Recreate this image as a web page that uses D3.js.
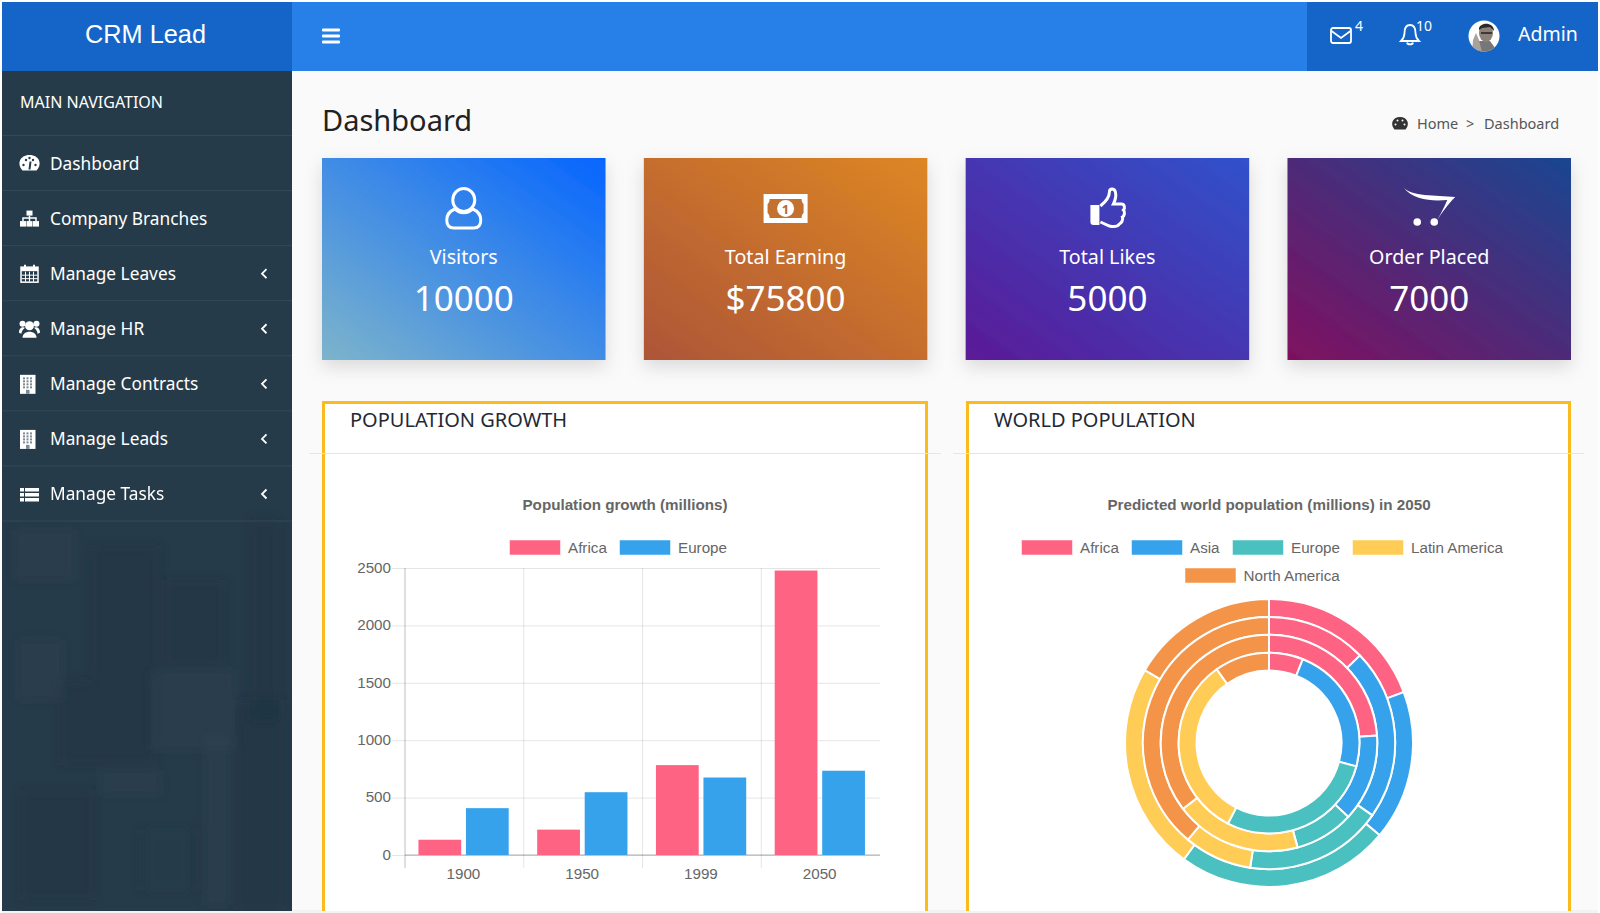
<!DOCTYPE html>
<html>
<head>
<meta charset="utf-8">
<script src="https://cdn.jsdelivr.net/npm/d3@7"></script>
<style>
  html, body { margin: 0; padding: 0; background: #fff; overflow: hidden; }
  svg { display: block; }
  text { font-family: "Noto Sans", sans-serif; }
  .chart text { font-family: "Liberation Sans", Arial, sans-serif; fill: #666; font-size: 15.2px; }
</style>
</head>
<body>
<div id="page"></div>
<script>
// Data
var menuItems = ["Dashboard", "Company Branches", "Manage Leaves", "Manage HR", "Manage Contracts", "Manage Leads", "Manage Tasks"];
var menuIcons = ["gauge", "sitemap", "calendar", "users", "building", "building", "list"];
var menuArrows = [false, false, true, true, true, true, true];

var cardLabels = ["Visitors", "Total Earning", "Total Likes", "Order Placed"];
var cardValues = ["10000", "$75800", "5000", "7000"];
var cardIcons = ["user", "money", "thumb", "cart"];
var cardFrom = ["#7db4cb", "#ad5538", "#5b1a97", "#801060"];
var cardTo = ["#0565ff", "#dd8624", "#3052cb", "#1a4691"];

var years = ["1900", "1950", "1999", "2050"];
var barSeries = ["Africa", "Europe"];
var africa = [133, 221, 783, 2478];
var europe = [408, 547, 675, 734];
var barTicks = [0, 500, 1000, 1500, 2000, 2500];

var regions = ["Africa", "Asia", "Europe", "Latin America", "North America"];
var regionColors = ["#fe6384", "#36a2eb", "#4bc0c0", "#ffcd56", "#f39449"];
// rings from outside to inside, share of each region
var ringOuter = [693, 605, 864, 842, 596];
var ringSecond = [461, 789, 636, 314, 1400];
var ringThird = [860, 470, 317, 679, 1274];
var ringInner = [220, 830, 1020, 1177, 353];

var W = 1600, H = 913;

var svg = d3.select("#page").append("svg")
  .attr("width", W)
  .attr("height", H);

var defs = svg.append("defs");

var shadow = defs.append("filter").attr("id", "cardShadow")
  .attr("x", "-15%").attr("y", "-15%").attr("width", "130%").attr("height", "140%");
shadow.append("feDropShadow")
  .attr("dx", 0).attr("dy", 7).attr("stdDeviation", 9)
  .attr("flood-color", "#000").attr("flood-opacity", 0.13);

defs.append("filter").attr("id", "soft")
  .append("feGaussianBlur").attr("stdDeviation", 5);
defs.append("clipPath").attr("id", "sideClip")
  .append("rect").attr("x", 2).attr("y", 71).attr("width", 290).attr("height", H - 73);

var headerBlue = "#2680e8", darkBlue = "#1565c8", sideColor = "#263b49";

svg.append("rect").attr("x", 2).attr("y", 2).attr("width", W - 4).attr("height", H - 4).attr("fill", "#fafafa");
svg.append("rect").attr("x", 2).attr("y", H - 3).attr("width", W - 4).attr("height", 3).attr("fill", "#f3f3f3");

// Panels
var panels = [
  { x: 322, w: 606, title: "POPULATION GROWTH" },
  { x: 966, w: 605, title: "WORLD POPULATION" }
];
panels.forEach(function(p) {
  var g = svg.append("g");
  g.append("rect").attr("x", p.x).attr("y", 401).attr("width", p.w).attr("height", H - 403).attr("fill", "#fff");
  g.append("path")
    .attr("d", `M${p.x + 1.5},${H - 2}V402.5H${p.x + p.w - 1.5}V${H - 2}`)
    .attr("fill", "none").attr("stroke", "#fbbb1f").attr("stroke-width", 3);
  g.append("line")
    .attr("x1", p.x - 13).attr("x2", p.x + p.w + 13)
    .attr("y1", 453.5).attr("y2", 453.5)
    .attr("stroke", "#e6e6e6");
  g.append("text")
    .attr("x", p.x + 28).attr("y", 427)
    .attr("font-size", 20).attr("fill", "#1f2a36")
    .text(p.title);
});

// Header
svg.append("rect").attr("x", 2).attr("y", 2).attr("width", W - 4).attr("height", 69).attr("fill", headerBlue);
svg.append("rect").attr("x", 2).attr("y", 2).attr("width", 290).attr("height", 69).attr("fill", darkBlue);
svg.append("rect").attr("x", 1307).attr("y", 2).attr("width", W - 1309).attr("height", 69).attr("fill", darkBlue);

svg.append("text")
  .attr("x", 145.5).attr("y", 43)
  .attr("text-anchor", "middle")
  .attr("font-size", 25.3).attr("fill", "#fff")
  .style("font-family", "'Liberation Sans', Arial, sans-serif")
  .text("CRM Lead");

[30, 36, 42].forEach(function(y) {
  svg.append("rect").attr("x", 322).attr("y", y - 1.5).attr("width", 18).attr("height", 3).attr("rx", 1).attr("fill", "#fff");
});

// mail icon and count
var mail = svg.append("g").attr("transform", "translate(1331,28)")
  .attr("fill", "none").attr("stroke", "#fff").attr("stroke-width", 1.8);
mail.append("rect").attr("width", 20).attr("height", 15).attr("rx", 2);
mail.append("path").attr("d", "M0.5,3L10,10L19.5,3");
svg.append("text").attr("x", 1355).attr("y", 31).attr("font-size", 14).attr("fill", "#fff").text("4");

// bell icon and count
svg.append("path")
  .attr("transform", "translate(1400,24)")
  .attr("d", "M10,1C5.5,1 4.5,5 4.5,9C4.5,13 3,15 1,17H19C17,15 15.5,13 15.5,9C15.5,5 14.5,1 10,1ZM7,18.5C7.5,21 12.5,21 13,18.5")
  .attr("fill", "none").attr("stroke", "#fff").attr("stroke-width", 1.8);
svg.append("text").attr("x", 1416).attr("y", 31).attr("font-size", 14).attr("fill", "#fff").text("10");

// avatar
defs.append("clipPath").attr("id", "avatarClip").append("circle").attr("cx", 1484).attr("cy", 36).attr("r", 15.5);
var avatar = svg.append("g").attr("clip-path", "url(#avatarClip)");
avatar.append("rect").attr("x", 1468).attr("y", 20).attr("width", 32).attr("height", 32).attr("fill", "#fff");
avatar.append("path").attr("d", "M1474,52L1478,41L1490,41L1498,52Z").attr("fill", "#777");
avatar.append("path").attr("d", "M1473,40L1476,33L1479,40L1482,52H1472Z").attr("fill", "#a9a29b");
avatar.append("ellipse").attr("cx", 1486).attr("cy", 33).attr("rx", 7).attr("ry", 9).attr("fill", "#8c8279");
avatar.append("path").attr("d", "M1479,30C1478,22 1494,21 1494,31L1490,27L1482,28Z").attr("fill", "#2c2a28");
avatar.append("path").attr("d", "M1481,33H1492").attr("stroke", "#222").attr("stroke-width", 1.5);

svg.append("text").attr("x", 1518).attr("y", 41).attr("font-size", 19.5).attr("fill", "#fff").text("Admin");

// Sidebar
svg.append("rect").attr("x", 2).attr("y", 71).attr("width", 290).attr("height", H - 73).attr("fill", sideColor);

// faint city photo under the sidebar colour, only blotches survive
var darkPatches = [[90, 545, 70, 135], [165, 580, 60, 85], [60, 680, 95, 85], [20, 790, 75, 110], [140, 830, 60, 60], [250, 520, 30, 200], [235, 700, 50, 210]];
var lightPatches = [[18, 640, 45, 60], [150, 670, 85, 80], [100, 770, 60, 25], [205, 735, 24, 170], [145, 830, 45, 60], [15, 530, 60, 50]];
var texture = svg.append("g").attr("clip-path", "url(#sideClip)").append("g").attr("filter", "url(#soft)");
darkPatches.forEach(function(t) {
  texture.append("rect").attr("x", t[0]).attr("y", t[1]).attr("width", t[2]).attr("height", t[3])
    .attr("fill", "#1a3140").attr("opacity", 0.3);
});
lightPatches.forEach(function(t) {
  texture.append("rect").attr("x", t[0]).attr("y", t[1]).attr("width", t[2]).attr("height", t[3])
    .attr("fill", "#35505f").attr("opacity", 0.18);
});

svg.append("text").attr("x", 20).attr("y", 108).attr("font-size", 16).attr("fill", "#fff").text("MAIN NAVIGATION");
svg.append("line").attr("x1", 2).attr("x2", 292).attr("y1", 135.5).attr("y2", 135.5).attr("stroke", "#344956");

function drawIcon(g, name) {
  // icons are about 20px wide, drawn round the origin
  var c = "#fff";
  if (name == "gauge") {
    g.append("path").attr("d", "M-7,7C-13,1 -10,-8.5 0,-8.5C10,-8.5 13,1 7,7Z").attr("fill", c);
    [[-6, 1.5], [-3.5, -3.5], [3.5, -3.5], [6, 1.5], [0, -5.5]].forEach(function(d) {
      g.append("circle").attr("cx", d[0]).attr("cy", d[1]).attr("r", 1.2).attr("fill", sideColor);
    });
    g.append("path").attr("d", "M0,6L1,-2").attr("stroke", sideColor).attr("stroke-width", 2);
  } else if (name == "sitemap") {
    g.append("rect").attr("x", -3).attr("y", -8).attr("width", 6).attr("height", 5).attr("fill", c);
    [-9.5, -3, 3.5].forEach(function(x) {
      g.append("rect").attr("x", x).attr("y", 2.5).attr("width", 6).attr("height", 5.5).attr("fill", c);
    });
    g.append("path").attr("d", "M0,-3V2.5M-6.5,2.5V-0.5H6.5V2.5").attr("fill", "none").attr("stroke", c).attr("stroke-width", 1.5);
  } else if (name == "calendar") {
    g.append("rect").attr("x", -8.5).attr("y", -6.5).attr("width", 17).attr("height", 15).attr("fill", "none").attr("stroke", c).attr("stroke-width", 1.5);
    g.append("rect").attr("x", -8.5).attr("y", -6.5).attr("width", 17).attr("height", 4).attr("fill", c);
    g.append("path").attr("d", "M-4.5,-9V-5M4.5,-9V-5").attr("stroke", c).attr("stroke-width", 2);
    g.append("path").attr("d", "M-4,-2V8M0,-2V8M4,-2V8M-8,1.5H8M-8,5H8").attr("stroke", c).attr("stroke-width", 1);
  } else if (name == "users") {
    g.append("circle").attr("cy", -3).attr("r", 4.5).attr("fill", c);
    g.append("path").attr("d", "M-7,9C-7,1 7,1 7,9Z").attr("fill", c);
    g.append("circle").attr("cx", -7).attr("cy", -5).attr("r", 3).attr("fill", c);
    g.append("circle").attr("cx", 7).attr("cy", -5).attr("r", 3).attr("fill", c);
    g.append("path").attr("d", "M-10.5,4C-10.5,-2 -6,-2 -4.5,-1C-7,1 -8,3 -8,5Z").attr("fill", c);
    g.append("path").attr("d", "M10.5,4C10.5,-2 6,-2 4.5,-1C7,1 8,3 8,5Z").attr("fill", c);
  } else if (name == "building") {
    g.append("rect").attr("x", -9.5).attr("y", -9).attr("width", 15.5).attr("height", 19).attr("fill", c);
    [-6.5, -3.5, -0.5, 2.5].forEach(function(y) {
      [-6.5, -3, 0.5].forEach(function(x) {
        g.append("rect").attr("x", x).attr("y", y).attr("width", 2).attr("height", 2).attr("fill", "#7d8a93");
      });
    });
    g.append("rect").attr("x", -3.5).attr("y", 6).attr("width", 3.5).attr("height", 4).attr("fill", "#7d8a93");
  } else if (name == "list") {
    [-6, -1, 4].forEach(function(y) {
      g.append("rect").attr("x", -9.5).attr("y", y).attr("width", 4).attr("height", 3.5).attr("fill", c);
      g.append("rect").attr("x", -4.5).attr("y", y).attr("width", 14).attr("height", 3.5).attr("fill", c);
    });
  }
}

menuItems.forEach(function(name, i) {
  var y = d3.scaleLinear().domain([0, 6]).range([163.5, 494])(i);
  var g = svg.append("g").attr("transform", `translate(0,${y})`);
  drawIcon(g.append("g").attr("transform", "translate(29.5,0)"), menuIcons[i]);
  g.append("text").attr("x", 50).attr("y", 6).attr("font-size", 17.3).attr("fill", "#fff").text(name);
  if (menuArrows[i]) {
    g.append("path").attr("d", "M266.5,-4.5L262,0L266.5,4.5").attr("fill", "none").attr("stroke", "#fff").attr("stroke-width", 1.8);
  }
  g.append("line").attr("x1", 2).attr("x2", 292).attr("y1", 27).attr("y2", 27).attr("stroke", "#344956");
});

// Page heading and breadcrumb
svg.append("text").attr("x", 322).attr("y", 131).attr("font-size", 29).attr("fill", "#222").text("Dashboard");

var crumb = svg.append("g").attr("transform", "translate(1400,123.5)");
crumb.append("path").attr("d", "M-5.5,6C-10,1 -8,-6.5 0,-6.5C8,-6.5 10,1 5.5,6Z").attr("fill", "#333");
[[-4.5, 1], [-2.5, -3], [2.5, -3], [4.5, 1]].forEach(function(d) {
  crumb.append("circle").attr("cx", d[0]).attr("cy", d[1]).attr("r", 1).attr("fill", "#fafafa");
});
svg.append("text").attr("x", 1417).attr("y", 128.5).attr("font-size", 14.5).attr("fill", "#555").text("Home");
svg.append("text").attr("x", 1466).attr("y", 128.5).attr("font-size", 14.5).attr("fill", "#555").text(">");
svg.append("text").attr("x", 1484).attr("y", 128.5).attr("font-size", 14.5).attr("fill", "#555").text("Dashboard");

// Stat cards
var cardX = d3.scaleBand().domain(cardLabels).range([322, 1571]).paddingInner(0.119);

function drawCardIcon(g, name) {
  var c = "#fff";
  if (name == "user") {
    g.append("ellipse").attr("cy", -9).attr("rx", 11).attr("ry", 11.5).attr("fill", "none").attr("stroke", c).attr("stroke-width", 3);
    g.append("path").attr("d", "M-9,0C-16,3 -17,7 -17,11C-17,17 -14,19 -10,19H10C14,19 17,17 17,11C17,7 16,3 9,0C4,5 -4,5 -9,0Z")
      .attr("fill", "none").attr("stroke", c).attr("stroke-width", 3);
  } else if (name == "money") {
    g.append("rect").attr("x", -22).attr("y", -15).attr("width", 44).attr("height", 29).attr("fill", c);
    g.append("path").attr("d", "M-16,-10H16C16,-7 17,-6 18,-5V4C17,5 16,6 16,9H-16C-16,6 -17,5 -18,4V-5C-17,-6 -16,-7 -16,-10Z")
      .attr("fill", "#c4702f");
    g.append("circle").attr("cy", -0.5).attr("r", 8.5).attr("fill", c);
    g.append("text").attr("y", 4.5).attr("text-anchor", "middle").attr("font-size", 13).attr("font-weight", 700).attr("fill", "#b86a30").text("1");
  } else if (name == "thumb") {
    g.append("path")
      .attr("d", "M-17,-4H-8V16H-14C-16,16 -17,15 -17,13Z")
      .attr("fill", c);
    g.append("path")
      .attr("d", "M-7,-3C-2,-7 2,-12 2,-17C2,-21 7,-21 8,-17C9,-13 8,-9 6,-5H14C17,-5 18,-1 16,1C18,3 17,7 15,8C16,11 14,14 12,15C10,18 6,18 2,17L-7,13")
      .attr("fill", "none").attr("stroke", c).attr("stroke-width", 3);
  } else if (name == "cart") {
    g.append("path")
      .attr("d", "M-26,-22C-18,-12 6,-14 26,-12C18,-4 11,6 8,11C12,4 16,-4 18,-9C4,-8 -16,-8 -26,-22Z")
      .attr("fill", c);
    g.append("circle").attr("cx", -12).attr("cy", 13).attr("r", 3.8).attr("fill", c);
    g.append("circle").attr("cx", 5).attr("cy", 13).attr("r", 3.8).attr("fill", c);
  }
}

cardLabels.forEach(function(label, i) {
  var grad = defs.append("linearGradient").attr("id", "cardGrad" + i)
    .attr("x1", "0%").attr("y1", "100%").attr("x2", "100%").attr("y2", "0%");
  grad.append("stop").attr("offset", "0%").attr("stop-color", cardFrom[i]);
  grad.append("stop").attr("offset", "100%").attr("stop-color", cardTo[i]);

  var x = cardX(label), w = cardX.bandwidth();
  svg.append("rect")
    .attr("x", x).attr("y", 158)
    .attr("width", w).attr("height", 202)
    .attr("fill", `url(#cardGrad${i})`)
    .attr("filter", "url(#cardShadow)");
  drawCardIcon(svg.append("g").attr("transform", `translate(${x + w / 2},209)`), cardIcons[i]);
  svg.append("text").attr("x", x + w / 2).attr("y", 264).attr("text-anchor", "middle")
    .attr("font-size", 19.7).attr("fill", "#fff").text(label);
  svg.append("text").attr("x", x + w / 2).attr("y", 311).attr("text-anchor", "middle")
    .attr("font-size", 35).attr("fill", "#fff").text(cardValues[i]);
});

// Legend helper, one row at a time
function legendRow(g, names, colors, xs, y) {
  names.forEach(function(name, i) {
    g.append("rect")
      .attr("x", xs[i]).attr("y", y - 7)
      .attr("width", 51).attr("height", 15)
      .attr("fill", colors[i])
      .attr("stroke", "#fff").attr("stroke-opacity", 0.5);
    g.append("text").attr("x", xs[i] + 58.5).attr("y", y + 5.5).text(name);
  });
}

// Bar chart
var barChart = svg.append("g").attr("class", "chart");

barChart.append("text")
  .attr("x", 625).attr("y", 510)
  .attr("text-anchor", "middle")
  .attr("font-weight", 700)
  .text("Population growth (millions)");

legendRow(barChart, barSeries, [regionColors[0], regionColors[1]], [509.5, 619.5], 547);

var xYear = d3.scaleBand().domain(years).range([405, 880]);
var bw = xYear.bandwidth();
var xSeries = d3.scaleBand().domain(barSeries).range([bw * 0.1, bw * 0.9]).paddingInner(0.1).paddingOuter(0.05);
var yPop = d3.scaleLinear().domain([0, 2500]).range([855, 568]);

var yAxis = d3.axisLeft(yPop).tickValues(barTicks).tickSize(13).tickFormat(d3.format("d"));
var yG = barChart.append("g").attr("transform", "translate(405,0)").call(yAxis);
yG.select(".domain").remove();
yG.selectAll(".tick line").attr("x2", 475).attr("x1", -13).attr("stroke", "#000").attr("stroke-opacity", 0.1);
yG.selectAll(".tick text").attr("x", -14).attr("dy", "0.28em");

var xAxis = d3.axisBottom(xYear).tickSize(0).tickPadding(12);
var xG = barChart.append("g").attr("transform", "translate(-1,855)").call(xAxis);
xG.select(".domain").remove();
xG.selectAll(".tick text").attr("y", 12).attr("dy", "0.8em");

// vertical grid sits on the band edges, not the centres
var edges = years.map(function(d) { return xYear(d); }).concat([xYear.range()[1]]);
barChart.selectAll(".vgrid").data(edges).enter().append("line")
  .attr("class", "vgrid")
  .attr("x1", d => d).attr("x2", d => d)
  .attr("y1", yPop(2500)).attr("y2", 868)
  .attr("stroke", "#000")
  .attr("stroke-opacity", (d, i) => i == 0 ? 0.25 : (i == 4 ? 0 : 0.1));

barChart.append("line")
  .attr("x1", 405).attr("x2", 880)
  .attr("y1", yPop(0)).attr("y2", yPop(0))
  .attr("stroke", "#000").attr("stroke-opacity", 0.3);

[africa, europe].forEach(function(values, s) {
  barChart.selectAll(".bar" + s).data(values).enter().append("rect")
    .attr("class", "bar" + s)
    .attr("x", (d, i) => xYear(years[i]) + xSeries(barSeries[s]) - 0.8)
    .attr("y", d => yPop(d))
    .attr("width", xSeries.bandwidth())
    .attr("height", d => yPop(0) - yPop(d))
    .attr("fill", regionColors[s]);
});

// Doughnut chart
var donut = svg.append("g").attr("class", "chart");

donut.append("text")
  .attr("x", 1269).attr("y", 510)
  .attr("text-anchor", "middle")
  .attr("font-weight", 700)
  .text("Predicted world population (millions) in 2050");

legendRow(donut, regions.slice(0, 4), regionColors.slice(0, 4), [1021.5, 1131.5, 1232.5, 1352.5], 547);
legendRow(donut, regions.slice(4), regionColors.slice(4), [1185], 575);

var ringG = donut.append("g").attr("transform", "translate(1269,743)");
var pie = d3.pie().sort(null).value(d => d);
var ringWidth = (144 - 72.5) / 4;

[ringOuter, ringSecond, ringThird, ringInner].forEach(function(ring, r) {
  var arc = d3.arc()
    .outerRadius(144 - r * ringWidth)
    .innerRadius(144 - (r + 1) * ringWidth);
  ringG.append("g").selectAll("path").data(pie(ring)).enter().append("path")
    .attr("d", arc)
    .attr("fill", (d, i) => regionColors[i])
    .attr("stroke", "#fff")
    .attr("stroke-width", 2);
});
</script>
</body>
</html>
